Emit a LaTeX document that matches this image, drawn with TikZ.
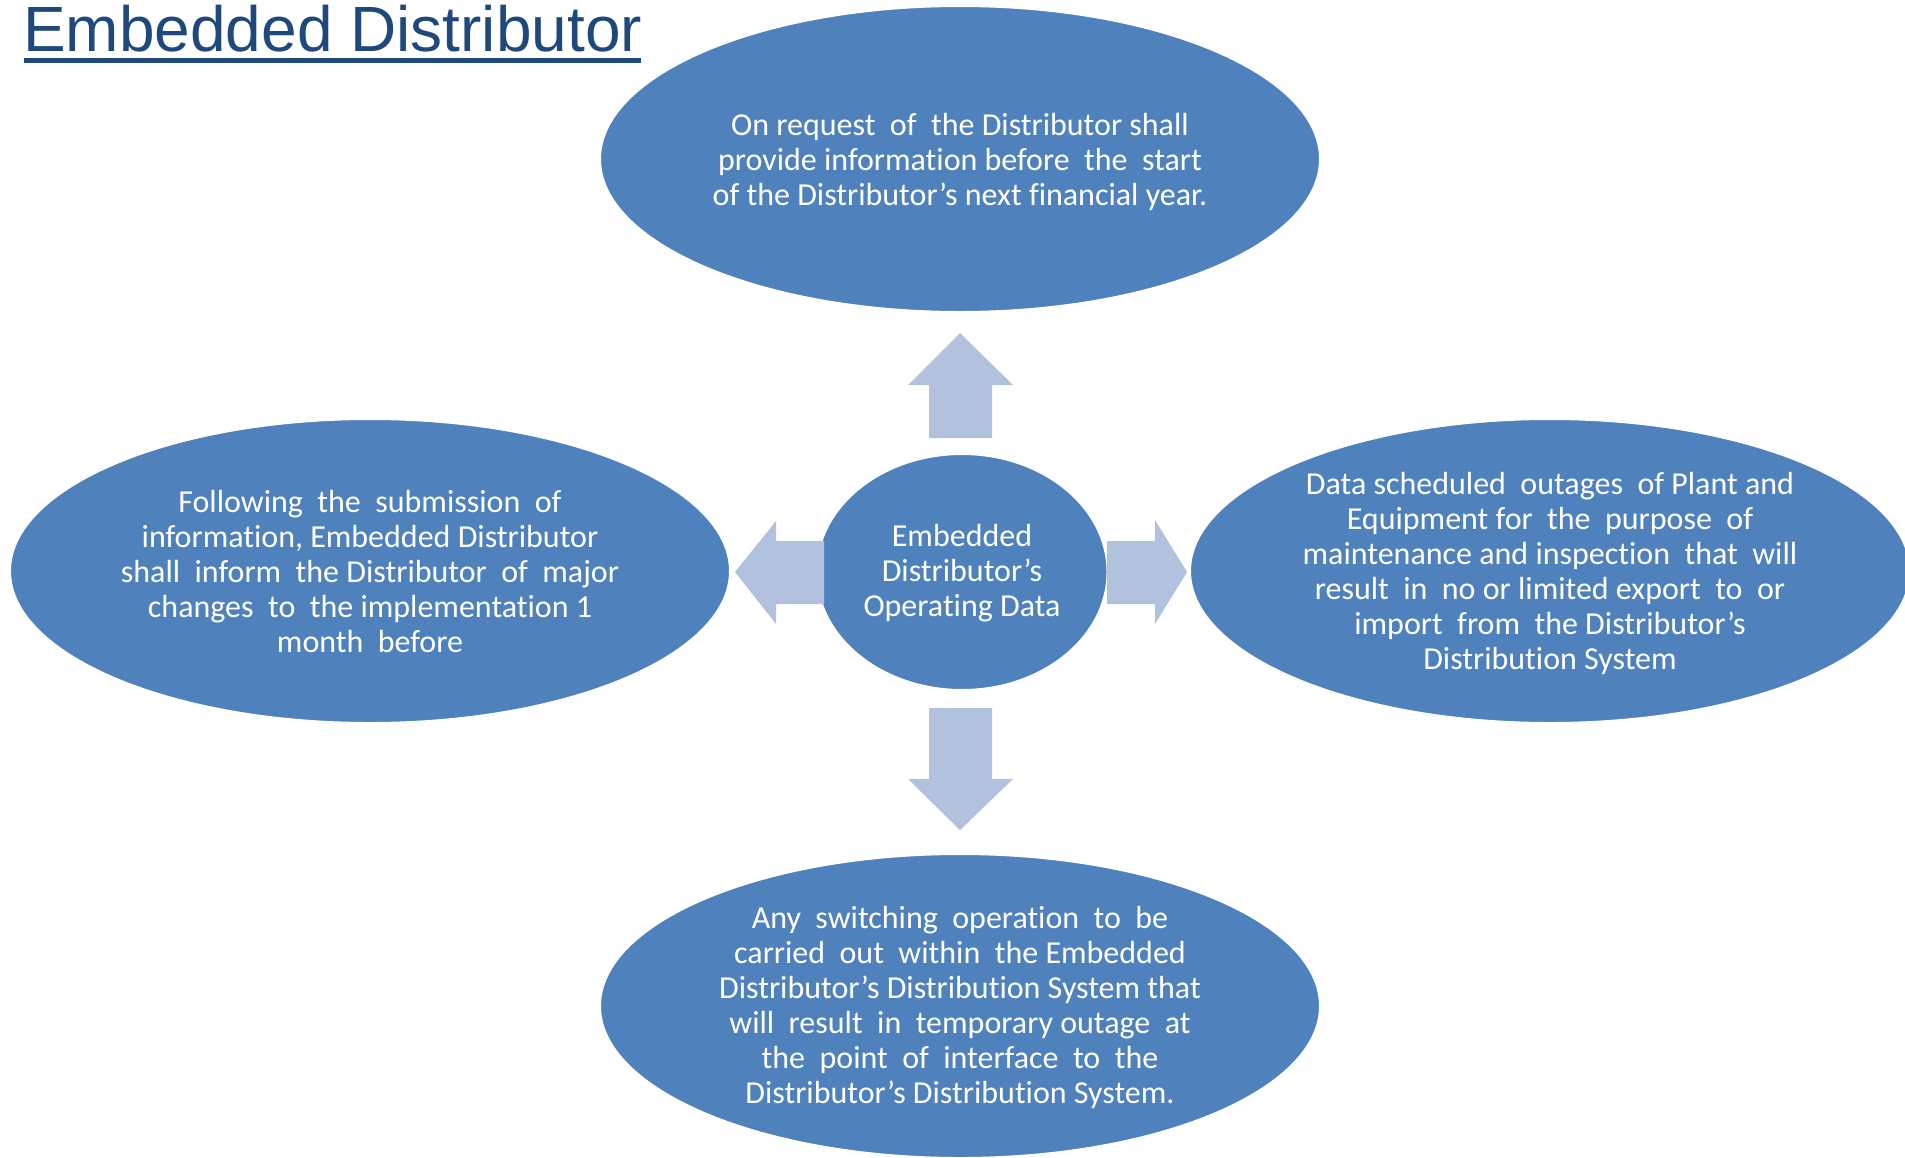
\documentclass[tikz,border=0pt]{standalone}
\usepackage{fontspec}
\setmainfont{Carlito}[Ligatures=NoCommon]
\newfontfamily\titlefont{Liberation Sans}
\usetikzlibrary{shapes.geometric}
\definecolor{ellblue}{HTML}{4F81BD}
\definecolor{arrblue}{HTML}{B2C1DD}
\definecolor{titleblue}{HTML}{1F497D}
\tikzset{
  bubble/.style={ellipse, fill=ellblue, draw=white, line width=2pt, inner sep=0pt},
  bubbletext/.style={text=white, align=center, font=\fontsize{32}{35}\selectfont, inner sep=0pt},
  blockarrow/.style={fill=arrblue, draw=none}
}
\begin{document}
\begin{tikzpicture}[x=1pt,y=-1pt]
\useasboundingbox (0,0) rectangle (1905,1157);
% ellipses
\node[bubble, minimum width=720pt, minimum height=306pt] (top) at (960,159) {};
\node[bubble, minimum width=720pt, minimum height=304pt] (left) at (370,571) {};
\node[bubble, minimum width=720pt, minimum height=304pt] (right) at (1550,571) {};
\node[bubble, minimum width=720pt, minimum height=304pt] (bottom) at (960,1006) {};
\node[bubble, minimum width=291pt, minimum height=236pt] (center) at (962,572) {};
% block arrows
\fill[blockarrow] (929,438) -- (929,385) -- (908,385) -- (960,333) -- (1013,385) -- (992,385) -- (992,438) -- cycle;
\fill[blockarrow] (929,708) -- (992,708) -- (992,779) -- (1013,779) -- (960,830) -- (908,779) -- (929,779) -- cycle;
\fill[blockarrow] (824,541) -- (776,541) -- (776,521) -- (735,572) -- (776,624) -- (776,604) -- (824,604) -- cycle;
\fill[blockarrow] (1107,541) -- (1155,541) -- (1155,520) -- (1187,572) -- (1155,624) -- (1155,604) -- (1107,604) -- cycle;
% texts
\node[bubbletext, yshift=-2.5pt] (toptext) at (top.center) {On request\ \ of\ \ the Distributor shall\\provide information before\ \ the\ \ start\\of the Distributor’s next financial year.};
\node[bubbletext, yshift=0pt] (lefttext) at (left.center) {Following\ \ the\ \ submission\ \ of\\information, Embedded Distributor\\shall\ \ inform\ \ the Distributor\ \ of\ \ major\\changes\ \ to\ \ the implementation 1\\month\ \ before};
\node[bubbletext, yshift=-2.5pt] (righttext) at (right.center) {Data scheduled\ \ outages\ \ of Plant and\\Equipment for\ \ the\ \ purpose\ \ of\\maintenance and inspection\ \ that\ \ will\\result\ \ in\ \ no or limited export\ \ to\ \ or\\import\ \ from\ \ the Distributor’s\\Distribution System};
\node[bubbletext, yshift=-1pt] (bottomtext) at (bottom.center) {Any\ \ switching\ \ operation\ \ to\ \ be\\carried\ \ out\ \ within\ \ the Embedded\\Distributor’s Distribution System that\\will\ \ result\ \ in\ \ temporary outage\ \ at\\the\ \ point\ \ of\ \ interface\ \ to\ \ the\\Distributor’s Distribution System.};
\node[bubbletext, yshift=-1pt] (centertext) at (center.center) {Embedded\\Distributor’s\\Operating Data};
% title
\node[anchor=base west, inner sep=0pt, text=titleblue, font=\titlefont\fontsize{64}{64}\selectfont] (title) at (23,51) {Embedded Distributor};
\coordinate (ulA) at (24,60.5);
\coordinate (ulB) at (641,60.5);
\draw[titleblue, line width=4.5pt] (ulA) -- (ulB);
\end{tikzpicture}
\end{document}
